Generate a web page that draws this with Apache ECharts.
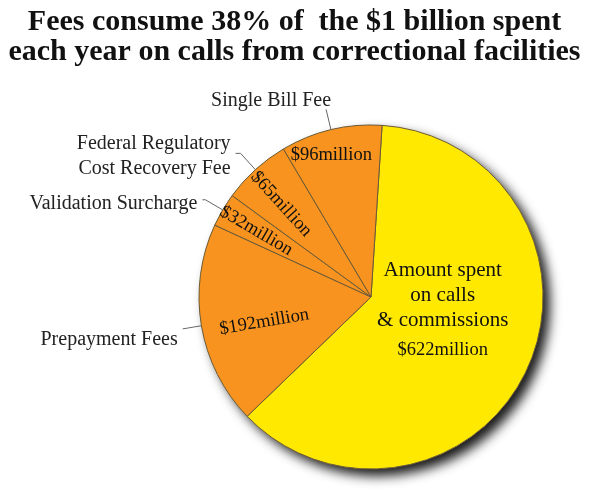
<!DOCTYPE html>
<html><head><meta charset="utf-8">
<script src="https://cdn.jsdelivr.net/npm/echarts@6/dist/echarts.min.js"></script>
<style>html,body{margin:0;padding:0;background:#fff}#c{width:589px;height:503px}</style>
</head><body><div id="c"></div>
<script>
// ---- data ----
const titleLines = ['Fees consume 38% of  the $1 billion spent', 'each year on calls from correctional facilities'];
const categories = ['Amount spent on calls & commissions', 'Prepayment Fees', 'Validation Surcharge', 'Federal Regulatory Cost Recovery Fee', 'Single Bill Fee'];
const outsideNames = ['', 'Prepayment Fees', 'Validation Surcharge', 'Federal Regulatory\nCost Recovery Fee', 'Single Bill Fee'];
const mainLabelLines = ['Amount spent', 'on calls', '& commissions'];
const values = [622, 192, 32, 65, 96];
const valueUnit = 'million';

// ---- styles / layout ----
const FONT = 'Liberation Serif';
const colors = ['#FFE900', '#F7931E', '#F7931E', '#F7931E', '#F7931E'];
const CENTER = [371, 297];
const RADIUS = 172;
const START = 86.3;
const insideShift = [[-9, -22], [-19, 10], [-38, -21], [-30, -27], [-19, -55]];   // screen-space shift
const insideRotate = [0, 'radial', 'radial', 'radial', 0];
const lineLen = [[0, 0], [19, 0], [20, 3], [22, 5], [21, 0]];
const outShift = [[0, 0], [0, 11], [0, 4], [0, 3], [10, -9]];

const total = values.reduce((a, b) => a + b, 0);
const money = v => '$' + v + valueUnit;

// mid angles (math degrees) of each slice, from the pie's own start angle and values
const midAngles = [];
(function () { let cum = 0; values.forEach(v => { midAngles.push(START - (cum + v / 2) / total * 360); cum += v; }); })();

function toLocal(i, s) {
  if (insideRotate[i] !== 'radial') return s;
  const t = midAngles[i] * Math.PI / 180;
  let ux = Math.cos(t), uy = -Math.sin(t);
  if (ux < 0) { ux = -ux; uy = -uy; }
  const nx = -uy, ny = ux;
  return [s[0] * ux + s[1] * uy, s[0] * nx + s[1] * ny];
}

const mainData = values.map((v, i) => {
  const item = {
    name: categories[i], value: v,
    itemStyle: { color: colors[i] },
    label: { rotate: insideRotate[i] }
  };
  item.label.formatter = i === 0
    ? '{a|' + mainLabelLines.join('\n') + '}\n{b|' + money(v) + '}'
    : money(v);
  return item;
});

const outData = values.map((v, i) => ({
  name: categories[i], value: v,
  label: i === 0 ? { show: false } : { show: true, formatter: outsideNames[i] },
  labelLine: i === 0 ? { show: false } : { show: true, length: lineLen[i][0], length2: lineLen[i][1] }
}));

const chart = echarts.init(document.getElementById('c'), null, { renderer: 'canvas' });
chart.setOption({
  animation: false,
  title: {
    text: titleLines.join('\n'),
    left: 'center', top: 2,
    textStyle: { fontFamily: FONT, fontWeight: 'bold', fontSize: 30, lineHeight: 30, color: '#111' }
  },
  series: [
    {
      type: 'pie', silent: true, center: CENTER, radius: RADIUS, startAngle: START,
      label: { show: false }, labelLine: { show: false },
      itemStyle: { color: colors[0], shadowBlur: 12, shadowOffsetX: 7, shadowOffsetY: 7, shadowColor: 'rgba(0,0,0,0.9)' },
      data: [{ name: 'total', value: total }]
    },
    {
      type: 'pie', silent: true, center: CENTER, radius: RADIUS, startAngle: START,
      avoidLabelOverlap: false,
      itemStyle: { borderColor: '#6b5a3a', borderWidth: 1 },
      label: {
        show: true, position: 'inside', fontFamily: FONT, fontSize: 18.5, color: '#111',
        rich: {
          a: { fontFamily: FONT, fontSize: 21, lineHeight: 25, color: '#111', align: 'center' },
          b: { fontFamily: FONT, fontSize: 18.5, lineHeight: 33, color: '#111', align: 'center' }
        }
      },
      labelLine: { show: false },
      labelLayout: function (p) {
        const l = toLocal(p.dataIndex, insideShift[p.dataIndex]);
        return { dx: l[0], dy: l[1] };
      },
      data: mainData
    },
    {
      type: 'pie', silent: true, center: CENTER, radius: RADIUS, startAngle: START,
      avoidLabelOverlap: false,
      itemStyle: { color: 'rgba(0,0,0,0)', borderWidth: 0 },
      label: { position: 'outside', fontFamily: FONT, fontSize: 20, lineHeight: 25, color: '#222', align: 'right' },
      labelLine: { lineStyle: { color: '#666', width: 1 } },
      labelLayout: function (p) {
        const s = outShift[p.dataIndex];
        return { dx: s[0], dy: s[1] };
      },
      data: outData
    }
  ]
});
</script>
</body></html>
